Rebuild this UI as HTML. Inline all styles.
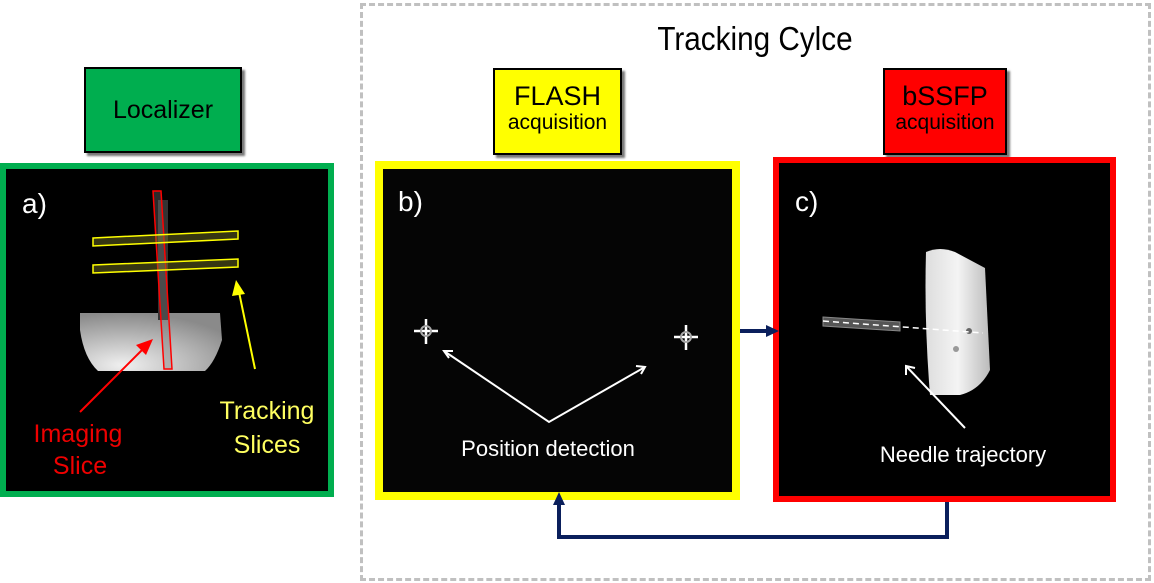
<!DOCTYPE html>
<html><head><meta charset="utf-8"><style>
body{margin:0;width:1154px;height:583px;background:#fff;position:relative;overflow:hidden;font-family:"Liberation Sans",sans-serif}
.a{position:absolute;box-sizing:border-box}
.lbl{border:2px solid #000;box-shadow:3px 3px 2px #777;text-align:center;color:#000}
</style></head><body>
<div class="a" style="left:360px;top:3px;width:791px;height:578px;border:3px dashed #c0c0c0"></div>
<div class="a" style="left:555px;top:20px;width:400px;text-align:center;font-size:33px;transform:scaleX(0.9)">Tracking Cylce</div>

<div class="a lbl" style="left:84px;top:67px;width:158px;height:86px;background:#00ae4f;font-size:25px;line-height:82px">Localizer</div>
<div class="a lbl" style="left:493px;top:68px;width:129px;height:87px;background:#ffff00"><div style="font-size:27px;margin-top:11px;line-height:30px">FLASH</div><div style="font-size:21px;line-height:24px">acquisition</div></div>
<div class="a lbl" style="left:883px;top:68px;width:124px;height:87px;background:#ff0000"><div style="font-size:27px;margin-top:11px;line-height:30px">bSSFP</div><div style="font-size:21px;line-height:24px">acquisition</div></div>

<div class="a" style="left:0;top:163px;width:334px;height:334px;border:6px solid #00ae4f;background:#000"></div>
<div class="a" style="left:375px;top:161px;width:365px;height:339px;border:8px solid #ffff00;background:#050505"></div>
<div class="a" style="left:773px;top:157px;width:343px;height:345px;border:6px solid #ff0000;background:#000"></div>

<svg class="a" style="left:0;top:0" width="1154" height="583">
<defs>
<radialGradient id="ph" cx="0.3" cy="0.9" r="0.9"><stop offset="0" stop-color="#f0f0f0"/><stop offset="1" stop-color="#8a8a8a"/></radialGradient>
<linearGradient id="ph2" x1="0" x2="1"><stop offset="0" stop-color="#ddd"/><stop offset="0.5" stop-color="#f4f4f4"/><stop offset="1" stop-color="#bbb"/></linearGradient>
</defs>
<path d="M80 313 L220 313 L222 340 Q215 362 205 371 L98 371 Q84 358 80 330 Z" fill="url(#ph)"/>
<rect x="158" y="200" width="10" height="120" fill="#333"/>
<polygon points="153,191 161,191 172,369 164,369" fill="rgba(120,120,120,0.35)" stroke="#f00" stroke-width="1.5"/>
<polygon points="93,238 238,231 238,239 93,246" fill="rgba(120,120,40,0.45)" stroke="#ff0" stroke-width="1.5"/>
<polygon points="93,265 238,259 238,267 93,273" fill="rgba(120,120,40,0.45)" stroke="#ff0" stroke-width="1.5"/>
<line x1="80" y1="412" x2="145" y2="347" stroke="#f00" stroke-width="2"/>
<polygon points="153,339 136,345 146,355" fill="#f00"/>
<line x1="255" y1="369" x2="239" y2="292" stroke="#ff0" stroke-width="2"/>
<polygon points="236,280 232,296 245,294" fill="#ff0"/>
<text x="22" y="213" fill="#fff" font-size="28" font-family="Liberation Sans">a)</text>
<text x="78" y="442" fill="#e00" font-size="25" text-anchor="middle">Imaging</text>
<text x="80" y="474" fill="#e00" font-size="25" text-anchor="middle">Slice</text>
<text x="267" y="419" fill="#ffff60" font-size="25" text-anchor="middle">Tracking</text>
<text x="267" y="453" fill="#ffff60" font-size="25" text-anchor="middle">Slices</text>
<text x="398" y="211" fill="#fff" font-size="28">b)</text>
<g stroke="#fff" stroke-width="2.5"><line x1="414" y1="331" x2="438" y2="331"/><line x1="426" y1="319" x2="426" y2="344"/><line x1="674" y1="337" x2="698" y2="337"/><line x1="686" y1="325" x2="686" y2="350"/></g>
<circle cx="426" cy="331" r="5" fill="none" stroke="#aaa" stroke-width="2"/><circle cx="686" cy="337" r="5" fill="none" stroke="#aaa" stroke-width="2"/>
<polyline points="444,351 549,422 645,367" fill="none" stroke="#fff" stroke-width="2"/>
<polyline points="449,358 444,351 453,351" fill="none" stroke="#fff" stroke-width="2"/>
<polyline points="636,366 645,367 641,374" fill="none" stroke="#fff" stroke-width="2"/>
<text x="548" y="456" fill="#fff" font-size="22" text-anchor="middle">Position detection</text>
<text x="795" y="211" fill="#fff" font-size="28">c)</text>
<path d="M926 252 Q940 246 955 252 L985 268 L990 370 Q980 390 960 395 L930 395 Q924 320 926 252 Z" fill="url(#ph2)"/>
<circle cx="969" cy="331" r="3" fill="#666"/><circle cx="956" cy="349" r="3" fill="#999"/>
<polygon points="823,317 900,322 900,331 823,326" fill="#555" stroke="#888" stroke-width="1"/>
<line x1="823" y1="321" x2="983" y2="333" stroke="#fff" stroke-width="1.5" stroke-dasharray="6,4"/>
<line x1="965" y1="428" x2="906" y2="366" stroke="#fff" stroke-width="2"/>
<polyline points="906,375 906,366 915,368" fill="none" stroke="#fff" stroke-width="2"/>
<text x="963" y="462" fill="#fff" font-size="22" text-anchor="middle">Needle trajectory</text>
<line x1="740" y1="331" x2="770" y2="331" stroke="#0a1f5c" stroke-width="4"/>
<polygon points="779,331 766,325 766,337" fill="#0a1f5c"/>
<polyline points="947,502 947,537 559,537 559,503" fill="none" stroke="#0a1f5c" stroke-width="4"/>
<polygon points="559,492 553,505 565,505" fill="#0a1f5c"/>
</svg>
</body></html>
